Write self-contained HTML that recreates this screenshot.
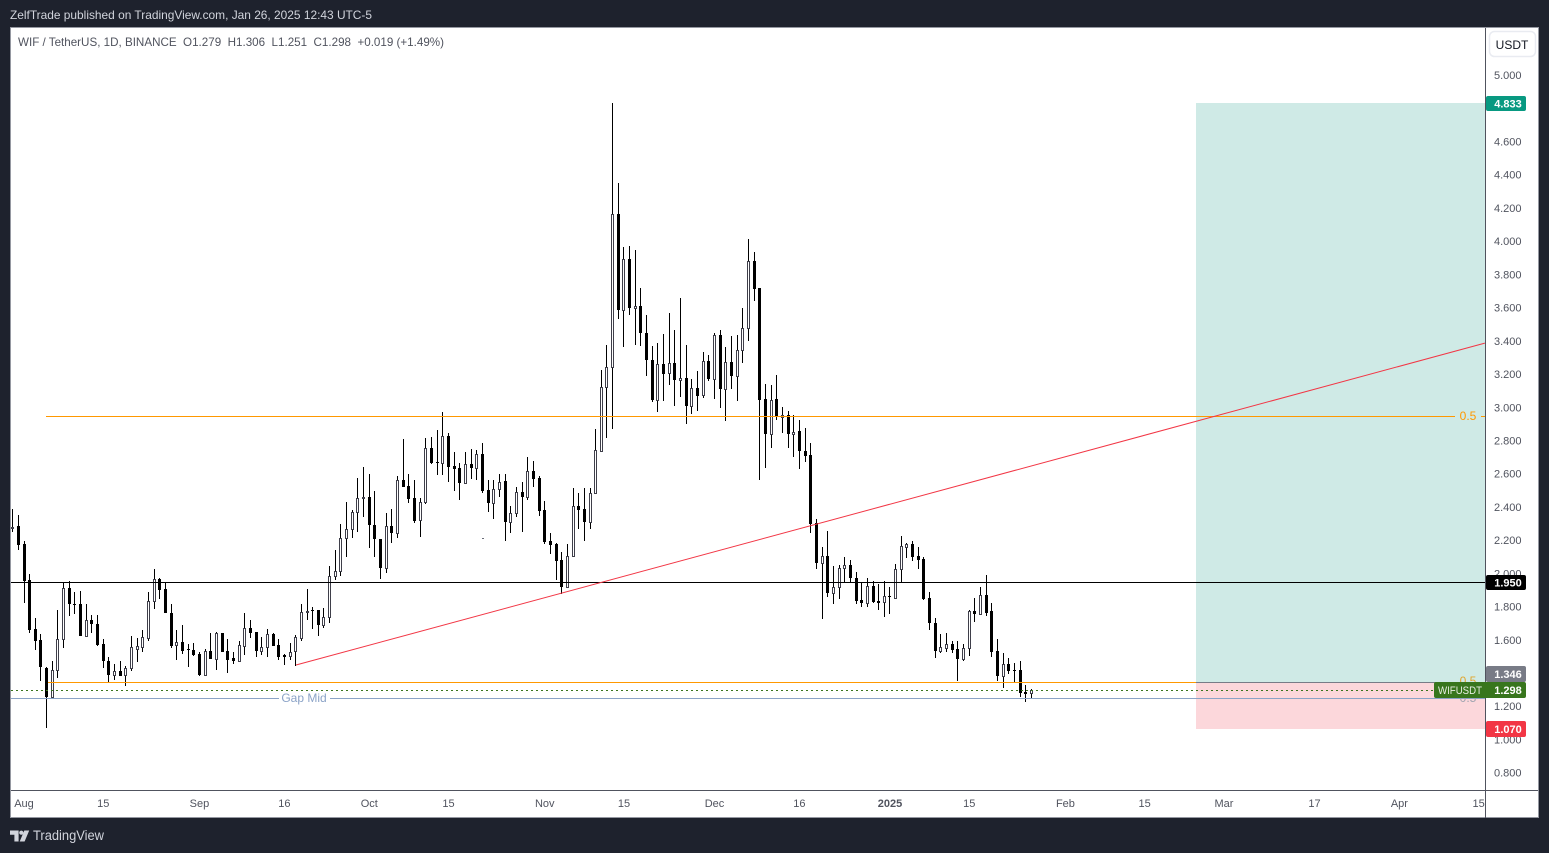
<!DOCTYPE html>
<html lang="en">
<head>
<meta charset="utf-8">
<title>WIF / TetherUS 1D chart</title>
<style>
html,body{margin:0;padding:0;background:#1e222d;width:1549px;height:853px;overflow:hidden}
svg{display:block;font-family:"Liberation Sans",sans-serif}
</style>
</head>
<body>
<svg id="chart" width="1549" height="853" viewBox="0 0 1549 853" xmlns="http://www.w3.org/2000/svg">
  <rect x="0" y="0" width="1549" height="853" fill="#1e222d"/>
  <text x="10" y="19" font-size="12" fill="#d1d4dc" textLength="362" lengthAdjust="spacingAndGlyphs">ZelfTrade published on TradingView.com, Jan 26, 2025 12:43 UTC-5</text>
  <rect x="10.5" y="27.5" width="1528" height="790" fill="#ffffff" stroke="#9598a1" stroke-width="1"/>
  <g id="zones"></g>
  <g id="candles"></g>
  <g id="drawings"></g>
  <rect x="1485" y="28" width="1" height="790" fill="#50535e"/>
  <rect x="11" y="790" width="1527" height="1" fill="#50535e"/>
  <g id="price-axis"></g>
  <g id="time-axis"></g>
  <g id="tags"></g>
  <text x="18" y="46" font-size="12" fill="#50535e" xml:space="preserve" textLength="426" lengthAdjust="spacingAndGlyphs">WIF / TetherUS, 1D, BINANCE  O1.279  H1.306  L1.251  C1.298  +0.019 (+1.49%)</text>
  <g>
    <rect x="1489.5" y="31.5" width="46" height="25" rx="5" fill="#ffffff" stroke="#e9ebf1" stroke-width="1.5"/>
    <text x="1512" y="49" font-size="12" fill="#131722" text-anchor="middle">USDT</text>
  </g>
  <g fill="#d1d4dc">
    <path d="M10 830.5h8.6v11h-4.2v-6.8H10z"/>
    <circle cx="21.3" cy="832.7" r="2.1"/>
    <path d="M24.3 830.5h4.9l-4.6 11h-4.9z"/>
    <text x="33" y="840" font-size="13.5" textLength="71" lengthAdjust="spacingAndGlyphs">TradingView</text>
  </g>
</svg>
<script>
const firstDay = -2;
const highs = [
2.386,2.350,2.194,1.995,1.734,1.634,1.437,1.471,1.778,1.943,
1.953,1.889,1.893,1.818,1.748,1.748,1.604,1.497,1.457,1.471,
1.441,1.622,1.608,1.658,1.885,2.029,1.969,1.943,1.818,1.658,
1.688,1.574,1.578,1.527,1.547,1.638,1.644,1.642,1.604,1.527,
1.592,1.764,1.718,1.648,1.618,1.664,1.642,1.604,1.517,1.578,
1.628,1.818,1.905,1.795,1.778,1.790,2.043,2.140,2.296,2.427,
2.381,2.577,2.640,2.597,2.495,2.204,2.361,2.385,2.585,2.806,
2.601,2.561,2.455,2.812,2.818,2.862,2.969,2.842,2.728,2.662,
2.728,2.748,2.742,2.782,2.561,2.561,2.601,2.597,2.405,2.517,
2.547,2.698,2.674,2.587,2.435,2.244,2.180,2.130,2.174,2.511,
2.481,2.511,2.511,2.872,3.223,3.374,4.833,4.353,3.962,3.968,
3.944,3.715,3.558,3.368,3.384,3.438,3.570,3.468,3.655,3.374,
3.173,3.217,3.330,3.313,3.448,3.468,3.360,3.428,3.434,3.600,
4.010,3.932,3.717,3.139,3.133,3.193,3.002,2.976,2.952,2.926,
2.874,2.782,2.327,2.158,2.254,2.044,2.050,2.096,2.080,2.007,
1.939,1.969,1.953,1.935,1.953,1.915,2.054,2.224,2.184,2.194,
2.160,2.096,1.885,1.729,1.634,1.638,1.592,1.592,1.574,1.779,
1.849,1.915,1.989,1.821,1.602,1.522,1.488,1.460,1.470,1.325,
1.306];
const lows = [
2.250,2.140,1.822,1.642,1.537,1.351,1.070,1.256,1.367,1.551,
1.744,1.754,1.624,1.624,1.642,1.564,1.433,1.343,1.357,1.383,
1.323,1.411,1.467,1.527,1.592,1.784,1.844,1.762,1.551,1.477,
1.517,1.437,1.503,1.383,1.387,1.483,1.417,1.527,1.401,1.457,
1.467,1.507,1.608,1.497,1.507,1.497,1.562,1.481,1.447,1.477,
1.443,1.592,1.722,1.664,1.622,1.670,1.704,1.959,1.985,2.100,
2.214,2.250,2.337,2.154,2.100,1.967,2.003,2.184,2.214,2.521,
2.421,2.304,2.220,2.417,2.658,2.593,2.593,2.551,2.497,2.441,
2.537,2.569,2.565,2.485,2.371,2.327,2.461,2.196,2.244,2.337,
2.250,2.441,2.521,2.347,2.176,2.116,1.959,1.875,1.919,2.100,
2.270,2.196,2.266,2.477,2.731,2.816,2.872,3.534,3.364,3.556,
3.374,3.370,3.187,3.032,2.970,3.038,3.133,3.006,3.063,2.898,
2.958,2.978,3.055,3.157,3.049,2.994,2.916,3.111,3.038,3.267,
3.398,3.641,2.561,2.637,2.753,2.926,2.842,2.753,2.699,2.631,
2.669,2.240,2.026,1.727,1.859,1.815,1.845,1.939,1.945,1.815,
1.799,1.799,1.819,1.779,1.739,1.755,1.853,1.945,2.094,2.074,
2.026,1.841,1.658,1.492,1.518,1.528,1.522,1.351,1.474,1.504,
1.706,1.753,1.745,1.498,1.353,1.311,1.397,1.343,1.257,1.227,
1.251];
const opens = [
2.278,2.284,2.176,1.959,1.662,1.598,1.433,1.256,1.417,1.602,
1.913,1.814,1.814,1.624,1.722,1.698,1.574,1.471,1.387,1.415,
1.387,1.431,1.545,1.558,1.612,1.836,1.963,1.905,1.764,1.568,
1.584,1.543,1.541,1.513,1.387,1.535,1.483,1.638,1.531,1.489,
1.471,1.564,1.668,1.644,1.531,1.554,1.632,1.568,1.507,1.503,
1.533,1.612,1.774,1.778,1.778,1.688,1.735,1.985,2.015,2.210,
2.264,2.367,2.455,2.457,2.294,2.204,2.035,2.288,2.244,2.561,
2.525,2.451,2.324,2.431,2.752,2.670,2.662,2.824,2.646,2.632,
2.541,2.656,2.636,2.716,2.501,2.421,2.505,2.553,2.310,2.361,
2.487,2.461,2.614,2.577,2.379,2.192,2.176,2.078,1.919,2.102,
2.403,2.385,2.310,2.481,2.737,3.119,3.243,4.161,3.586,3.890,
3.598,3.612,3.450,3.287,3.042,3.263,3.207,3.269,3.165,3.179,
3.008,3.115,3.073,3.281,3.171,3.432,3.111,3.275,3.189,3.342,
3.480,3.878,3.717,3.047,2.838,3.048,2.940,2.956,2.840,2.856,
2.739,2.711,2.301,2.064,2.104,1.883,1.915,2.030,2.048,1.975,
1.839,1.823,1.923,1.833,1.825,1.863,1.853,2.024,2.160,2.176,
2.104,2.084,1.849,1.704,1.534,1.552,1.572,1.542,1.486,1.548,
1.771,1.757,1.867,1.771,1.530,1.383,1.454,1.417,1.417,1.285,
1.279];
const closes = [
2.282,2.170,1.953,1.658,1.592,1.437,1.256,1.417,1.602,1.909,
1.814,1.810,1.624,1.722,1.696,1.568,1.473,1.387,1.415,1.383,
1.433,1.554,1.560,1.614,1.836,1.963,1.899,1.762,1.564,1.584,
1.531,1.539,1.507,1.387,1.535,1.483,1.638,1.527,1.477,1.471,
1.568,1.668,1.642,1.531,1.554,1.632,1.564,1.497,1.499,1.529,
1.616,1.770,1.776,1.776,1.688,1.738,1.987,2.017,2.210,2.264,
2.367,2.451,2.459,2.292,2.204,2.035,2.288,2.244,2.561,2.521,
2.449,2.316,2.431,2.752,2.666,2.666,2.824,2.642,2.630,2.541,
2.656,2.636,2.716,2.497,2.421,2.505,2.547,2.310,2.361,2.487,
2.461,2.614,2.569,2.377,2.190,2.172,2.076,1.919,2.102,2.403,
2.381,2.310,2.481,2.740,3.119,3.245,4.161,3.586,3.890,3.598,
3.612,3.448,3.287,3.042,3.263,3.199,3.269,3.165,3.179,3.006,
3.113,3.069,3.281,3.169,3.432,3.111,3.275,3.189,3.342,3.480,
3.878,3.713,3.043,2.838,3.042,2.942,2.956,2.838,2.854,2.735,
2.707,2.297,2.064,2.104,1.883,1.915,2.032,2.048,1.971,1.835,
1.819,1.923,1.829,1.821,1.861,1.859,2.024,2.164,2.176,2.100,
2.080,1.845,1.702,1.534,1.554,1.572,1.538,1.486,1.548,1.771,
1.755,1.867,1.763,1.528,1.383,1.452,1.413,1.413,1.281,1.275,
1.298];

const priceTicks = [5.0,4.6,4.4,4.2,4.0,3.8,3.6,3.4,3.2,3.0,2.8,2.6,2.4,2.2,2.0,1.8,1.6,1.2,1.0,0.8];
const timeTickDays = [0,14,31,46,61,75,92,106,122,137,153,167,184,198,212,228,243,257];
const timeTickLabels = ["Aug","15","Sep","16","Oct","15","Nov","15","Dec","16","2025","15","Feb","15","Mar","17","Apr","15"];

const targetPrice = 4.833;
const entryPrice = 1.346;
const stopPrice = 1.07;
const lastPrice = 1.298;
const pivotPrice = 1.95;
const upperMidPrice = 2.946;
const gapMidPrice = 1.25;
const upperMidStartDay = 3.9;
const lowerMidStartDay = 4.3;
const zoneStartDay = 207;
const trendDays = [48.06, 258.1];
const trendPrices = [1.448, 3.386];

const svgNS = 'http://www.w3.org/2000/svg';
const plotLeft = 11, plotRight = 1485;
function xScale(day){ return 24 + 5.66 * day; }
function yScale(price){ return 739.45 - 166.1 * (price - 1); }
function rowOf(price){ return Math.round(yScale(price)); }
function make(tag, parent, attrs){
  const el = document.createElementNS(svgNS, tag);
  for (const k in attrs) el.setAttribute(k, attrs[k]);
  parent.appendChild(el);
  return el;
}

/* position zones */
const zones = document.getElementById('zones');
const zoneX = Math.round(xScale(zoneStartDay));
const profitZone = make('rect', zones, {x:zoneX, y:rowOf(targetPrice), width:plotRight-zoneX, height:rowOf(entryPrice)-rowOf(targetPrice), fill:'#cfeae6'});


const lossZone = make('rect', zones, {x:zoneX, y:rowOf(entryPrice), width:plotRight-zoneX, height:rowOf(stopPrice)-rowOf(entryPrice)+1, fill:'#fcd7db'});



/* candles */
const candleGroup = document.getElementById('candles');


closes.forEach(function(close, i){
  const open = opens[i];
  const px = Math.floor(xScale(firstDay + i));
  const up = close >= open;
  const hi = rowOf(highs[i]), lo = rowOf(lows[i]);
  const top = rowOf(Math.max(open, close)), bottom = rowOf(Math.min(open, close));
  const g = make('g', candleGroup, {'shape-rendering':'crispEdges'});
  
  
  const wick = make('rect', g, {x:px, y:hi, width:1, height:Math.max(1, lo-hi), fill:'#000000'});
  
  
  const bodyH = Math.max(1, bottom - top);
  if (up) {
    const frame = make('rect', g, {x:px-1, y:top, width:3, height:bodyH+1, fill:'#3f3f4a'});
    
    
    if (bodyH >= 2) {
      const inner = make('rect', g, {x:px, y:top+1, width:1, height:bodyH-1, fill:'#ffffff'});
      
      
    }
  } else {
    const body = make('rect', g, {x:px-1, y:top, width:3, height:bodyH, fill:'#000000'});
    
    
  }
});

/* drawings */
const drawings = document.getElementById('drawings');
function hLine(price, x1, x2, color, name, dash){
  const y = rowOf(price) + 0.5;
  const l = make('line', drawings, {x1:x1, x2:x2, y1:y, y2:y, stroke:color, 'stroke-width':1, 'shape-rendering':'crispEdges'});
  if (dash) l.setAttribute('stroke-dasharray', dash);
  
  
  return l;
}
hLine(entryPrice, zoneX, plotRight, '#787b86', 'entry-line');
hLine(pivotPrice, plotLeft, plotRight, '#000000', 'pivot-level-line');
hLine(upperMidPrice, Math.round(xScale(upperMidStartDay)), 1455, '#ff9800', 'upper-mid-line');
hLine(upperMidPrice, 1481, plotRight, '#ff9800', 'upper-mid-line-tail');
hLine(entryPrice, Math.round(xScale(lowerMidStartDay)), zoneX, '#ff9800', 'lower-mid-line');
hLine(gapMidPrice, plotLeft, 279, '#8ba3c7', 'gap-mid-line-left');
hLine(gapMidPrice, 330, plotRight, '#8ba3c7', 'gap-mid-line-right');
hLine(lastPrice, plotLeft, 1434, '#38761d', 'last-price-line', '2 3');
const trend = make('line', drawings, {x1:xScale(trendDays[0]), y1:yScale(trendPrices[0]), x2:xScale(trendDays[1]), y2:yScale(trendPrices[1]), stroke:'#f23645', 'stroke-width':1});


function label(parent, x, y, text, size, color, anchor, name, weight){
  const t = make('text', parent, {x:x, y:y, 'font-size':size, fill:color, 'text-anchor':anchor});
  if (weight) t.setAttribute('font-weight', weight);
  t.textContent = text;
  
  
  return t;
}
label(drawings, 304, rowOf(gapMidPrice)+4, 'Gap Mid', 12, '#8ba3c7', 'middle', 'gap-mid-label');
label(drawings, 1468, rowOf(upperMidPrice)+4, '0.5', 12, '#ff9800', 'middle', 'upper-mid-label');
label(drawings, 1468, rowOf(entryPrice)+3, '0.5', 12, '#e0a52e', 'middle', 'lower-mid-label');
label(drawings, 1468, rowOf(gapMidPrice)+4, '0.5', 12, '#a0a4b0', 'middle', 'gap-fib-label');
const specDot = make('rect', drawings, {x:482, y:538, width:2, height:1, fill:'#6a6d78'});



/* axes */
const priceAxis = document.getElementById('price-axis');


priceTicks.forEach(function(p){
  label(priceAxis, 1494, yScale(p)+4, p.toFixed(3), 11, '#50535e', 'start', 'price-tick');
});
const timeAxis = document.getElementById('time-axis');


timeTickDays.forEach(function(d, i){
  const txt = timeTickLabels[i];
  label(timeAxis, xScale(d), 807, txt, 11, '#50535e', 'middle', 'time-tick', txt === '2025' ? 'bold' : null);
});

/* price tags */
const tags = document.getElementById('tags');
function tag(price, x, w, y, h, color, name){
  const r = make('rect', tags, {x:x, y:y, width:w, height:h, rx:2, fill:color});
  
  
  label(tags, 1508, y + h/2 + 4, price.toFixed(3), 11, '#ffffff', 'middle', name + '-value', 'bold');
}
tag(targetPrice, 1486, 40, rowOf(targetPrice)-7, 15, '#089981', 'target-price');
tag(pivotPrice, 1486, 40, rowOf(pivotPrice)-7, 15, '#000000', 'pivot-price');
tag(entryPrice, 1486, 40, 666, 16, '#787b86', 'entry-price');
tag(stopPrice, 1486, 40, 721, 16, '#f23645', 'stop-price');
const lastBox = make('rect', tags, {x:1434, y:682, width:92, height:16, rx:2, fill:'#38761d'});


const symbolLabel = label(tags, 1438, 694, 'WIFUSDT', 11, '#e8efe3', 'start', 'symbol-tag-label');
symbolLabel.setAttribute('textLength', '44');
symbolLabel.setAttribute('lengthAdjust', 'spacingAndGlyphs');
label(tags, 1508, 694, lastPrice.toFixed(3), 11, '#ffffff', 'middle', 'last-price-value', 'bold');
</script>
</body>
</html>
